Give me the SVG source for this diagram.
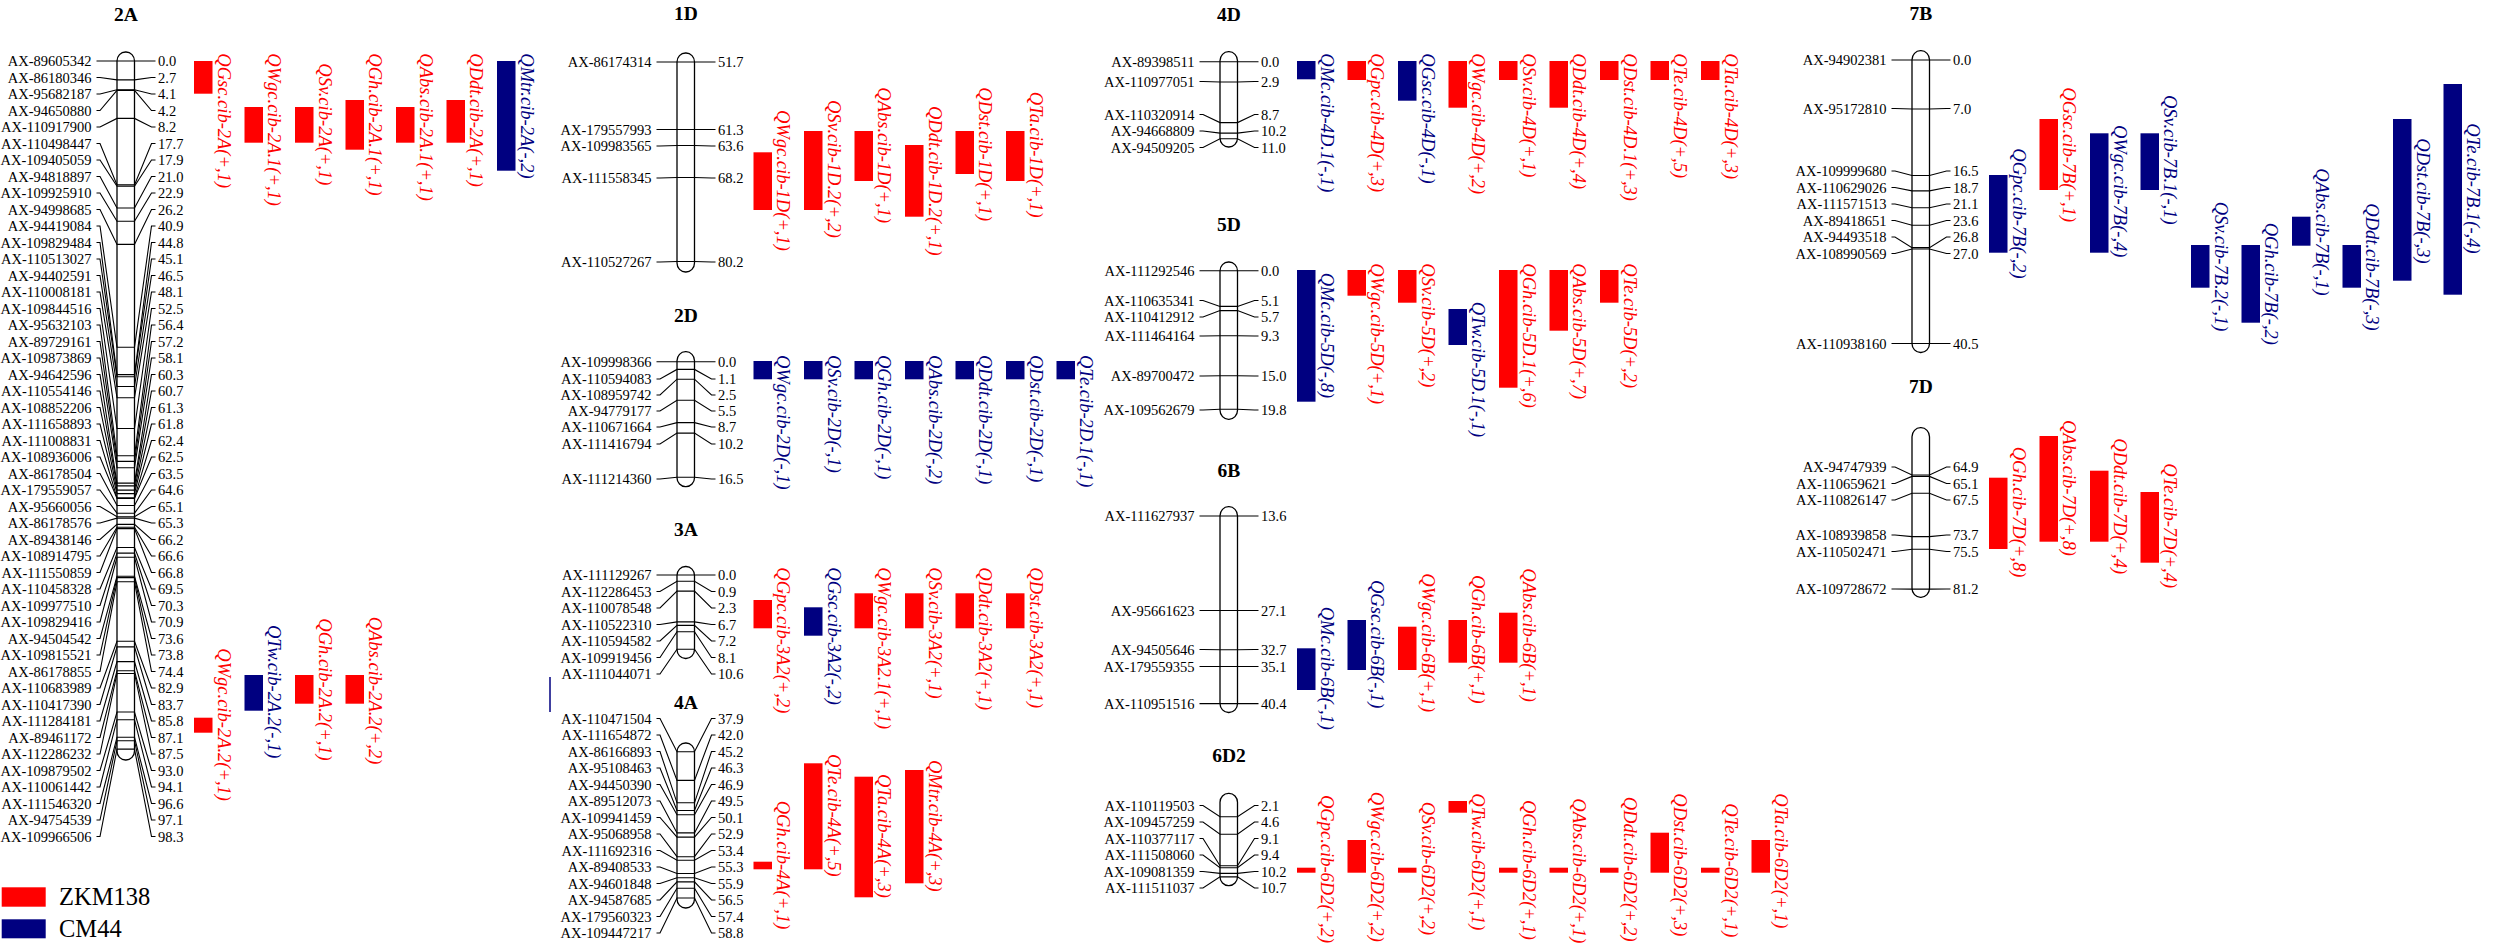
<svg xmlns="http://www.w3.org/2000/svg" width="2496" height="944" viewBox="0 0 2496 944">
<style>
text{font-family:"Liberation Serif","Times New Roman",serif}
.lb{font-size:14.5px;text-anchor:end;fill:#000}
.nm{font-size:14.5px;fill:#000}
.tt{font-size:19.5px;font-weight:bold;text-anchor:middle;fill:#000}
.chr{fill:#fff;stroke:#000;stroke-width:1.3}
.m polyline{fill:none;stroke:#000;stroke-width:1.1}
.r{fill:#ff0000}
.b{fill:#000080}
.qr,.qb{font-size:18.5px;font-style:italic}
.qr{fill:#ff0000}
.qb{fill:#000080}
.lg{font-size:24.5px;fill:#000}
</style>
<rect width="2496" height="944" fill="#fff"/>

<g id="chr-2A">
<text class="tt" x="126" y="20.7">2A</text>
<rect class="chr" x="117" y="52" width="17.5" height="708" rx="8.5" ry="9"/>
<g class="m">
<polyline points="96.5,61 100,61 117,61 134.5,61 151.5,61 155.5,61"/>
<polyline points="96.5,77.5 100,77.5 117,79.9 134.5,79.9 151.5,77.5 155.5,77.5"/>
<polyline points="96.5,94 100,94 117,89.7 134.5,89.7 151.5,94 155.5,94"/>
<polyline points="96.5,110.5 100,110.5 117,90.4 134.5,90.4 151.5,110.5 155.5,110.5"/>
<polyline points="96.5,127 100,127 117,118.4 134.5,118.4 151.5,127 155.5,127"/>
<polyline points="96.5,143.5 100,143.5 117,184.9 134.5,184.9 151.5,143.5 155.5,143.5"/>
<polyline points="96.5,160 100,160 117,186.3 134.5,186.3 151.5,160 155.5,160"/>
<polyline points="96.5,176.5 100,176.5 117,208 134.5,208 151.5,176.5 155.5,176.5"/>
<polyline points="96.5,193 100,193 117,221.3 134.5,221.3 151.5,193 155.5,193"/>
<polyline points="96.5,209.5 100,209.5 117,244.4 134.5,244.4 151.5,209.5 155.5,209.5"/>
<polyline points="96.5,226 100,226 117,347.3 134.5,347.3 151.5,226 155.5,226"/>
<polyline points="96.5,242.5 100,242.5 117,374.6 134.5,374.6 151.5,242.5 155.5,242.5"/>
<polyline points="96.5,259 100,259 117,376.7 134.5,376.7 151.5,259 155.5,259"/>
<polyline points="96.5,275.5 100,275.5 117,386.5 134.5,386.5 151.5,275.5 155.5,275.5"/>
<polyline points="96.5,292 100,292 117,397.7 134.5,397.7 151.5,292 155.5,292"/>
<polyline points="96.5,308.5 100,308.5 117,428.5 134.5,428.5 151.5,308.5 155.5,308.5"/>
<polyline points="96.5,325 100,325 117,455.8 134.5,455.8 151.5,325 155.5,325"/>
<polyline points="96.5,341.5 100,341.5 117,461.4 134.5,461.4 151.5,341.5 155.5,341.5"/>
<polyline points="96.5,358 100,358 117,467.7 134.5,467.7 151.5,358 155.5,358"/>
<polyline points="96.5,374.5 100,374.5 117,483.1 134.5,483.1 151.5,374.5 155.5,374.5"/>
<polyline points="96.5,391 100,391 117,485.9 134.5,485.9 151.5,391 155.5,391"/>
<polyline points="96.5,407.5 100,407.5 117,490.1 134.5,490.1 151.5,407.5 155.5,407.5"/>
<polyline points="96.5,424 100,424 117,493.6 134.5,493.6 151.5,424 155.5,424"/>
<polyline points="96.5,440.5 100,440.5 117,497.8 134.5,497.8 151.5,440.5 155.5,440.5"/>
<polyline points="96.5,457 100,457 117,498.5 134.5,498.5 151.5,457 155.5,457"/>
<polyline points="96.5,473.5 100,473.5 117,505.5 134.5,505.5 151.5,473.5 155.5,473.5"/>
<polyline points="96.5,490 100,490 117,513.2 134.5,513.2 151.5,490 155.5,490"/>
<polyline points="96.5,506.5 100,506.5 117,516.7 134.5,516.7 151.5,506.5 155.5,506.5"/>
<polyline points="96.5,523 100,523 117,518.1 134.5,518.1 151.5,523 155.5,523"/>
<polyline points="96.5,539.5 100,539.5 117,524.4 134.5,524.4 151.5,539.5 155.5,539.5"/>
<polyline points="96.5,556 100,556 117,527.2 134.5,527.2 151.5,556 155.5,556"/>
<polyline points="96.5,572.5 100,572.5 117,528.6 134.5,528.6 151.5,572.5 155.5,572.5"/>
<polyline points="96.5,589 100,589 117,547.5 134.5,547.5 151.5,589 155.5,589"/>
<polyline points="96.5,605.5 100,605.5 117,553.1 134.5,553.1 151.5,605.5 155.5,605.5"/>
<polyline points="96.5,622 100,622 117,557.3 134.5,557.3 151.5,622 155.5,622"/>
<polyline points="96.5,638.5 100,638.5 117,576.2 134.5,576.2 151.5,638.5 155.5,638.5"/>
<polyline points="96.5,655 100,655 117,577.6 134.5,577.6 151.5,655 155.5,655"/>
<polyline points="96.5,671.5 100,671.5 117,581.8 134.5,581.8 151.5,671.5 155.5,671.5"/>
<polyline points="96.5,688 100,688 117,641.3 134.5,641.3 151.5,688 155.5,688"/>
<polyline points="96.5,704.5 100,704.5 117,646.9 134.5,646.9 151.5,704.5 155.5,704.5"/>
<polyline points="96.5,721 100,721 117,661.6 134.5,661.6 151.5,721 155.5,721"/>
<polyline points="96.5,737.5 100,737.5 117,670.7 134.5,670.7 151.5,737.5 155.5,737.5"/>
<polyline points="96.5,754 100,754 117,673.5 134.5,673.5 151.5,754 155.5,754"/>
<polyline points="96.5,770.5 100,770.5 117,712 134.5,712 151.5,770.5 155.5,770.5"/>
<polyline points="96.5,787 100,787 117,719.7 134.5,719.7 151.5,787 155.5,787"/>
<polyline points="96.5,803.5 100,803.5 117,737.2 134.5,737.2 151.5,803.5 155.5,803.5"/>
<polyline points="96.5,820 100,820 117,740.7 134.5,740.7 151.5,820 155.5,820"/>
<polyline points="96.5,836.5 100,836.5 117,749.1 134.5,749.1 151.5,836.5 155.5,836.5"/>
</g>
<text class="lb"><tspan x="91.5" y="66">AX-89605342</tspan><tspan x="91.5" y="82.5">AX-86180346</tspan><tspan x="91.5" y="99">AX-95682187</tspan><tspan x="91.5" y="115.5">AX-94650880</tspan><tspan x="91.5" y="132">AX-110917900</tspan><tspan x="91.5" y="148.5">AX-110498447</tspan><tspan x="91.5" y="165">AX-109405059</tspan><tspan x="91.5" y="181.5">AX-94818897</tspan><tspan x="91.5" y="198">AX-109925910</tspan><tspan x="91.5" y="214.5">AX-94998685</tspan><tspan x="91.5" y="231">AX-94419084</tspan><tspan x="91.5" y="247.5">AX-109829484</tspan><tspan x="91.5" y="264">AX-110513027</tspan><tspan x="91.5" y="280.5">AX-94402591</tspan><tspan x="91.5" y="297">AX-110008181</tspan><tspan x="91.5" y="313.5">AX-109844516</tspan><tspan x="91.5" y="330">AX-95632103</tspan><tspan x="91.5" y="346.5">AX-89729161</tspan><tspan x="91.5" y="363">AX-109873869</tspan><tspan x="91.5" y="379.5">AX-94642596</tspan><tspan x="91.5" y="396">AX-110554146</tspan><tspan x="91.5" y="412.5">AX-108852206</tspan><tspan x="91.5" y="429">AX-111658893</tspan><tspan x="91.5" y="445.5">AX-111008831</tspan><tspan x="91.5" y="462">AX-108936006</tspan><tspan x="91.5" y="478.5">AX-86178504</tspan><tspan x="91.5" y="495">AX-179559057</tspan><tspan x="91.5" y="511.5">AX-95660056</tspan><tspan x="91.5" y="528">AX-86178576</tspan><tspan x="91.5" y="544.5">AX-89438146</tspan><tspan x="91.5" y="561">AX-108914795</tspan><tspan x="91.5" y="577.5">AX-111550859</tspan><tspan x="91.5" y="594">AX-110458328</tspan><tspan x="91.5" y="610.5">AX-109977510</tspan><tspan x="91.5" y="627">AX-109829416</tspan><tspan x="91.5" y="643.5">AX-94504542</tspan><tspan x="91.5" y="660">AX-109815521</tspan><tspan x="91.5" y="676.5">AX-86178855</tspan><tspan x="91.5" y="693">AX-110683989</tspan><tspan x="91.5" y="709.5">AX-110417390</tspan><tspan x="91.5" y="726">AX-111284181</tspan><tspan x="91.5" y="742.5">AX-89461172</tspan><tspan x="91.5" y="759">AX-112286232</tspan><tspan x="91.5" y="775.5">AX-109879502</tspan><tspan x="91.5" y="792">AX-110061442</tspan><tspan x="91.5" y="808.5">AX-111546320</tspan><tspan x="91.5" y="825">AX-94754539</tspan><tspan x="91.5" y="841.5">AX-109966506</tspan></text>
<text class="nm"><tspan x="158" y="66">0.0</tspan><tspan x="158" y="82.5">2.7</tspan><tspan x="158" y="99">4.1</tspan><tspan x="158" y="115.5">4.2</tspan><tspan x="158" y="132">8.2</tspan><tspan x="158" y="148.5">17.7</tspan><tspan x="158" y="165">17.9</tspan><tspan x="158" y="181.5">21.0</tspan><tspan x="158" y="198">22.9</tspan><tspan x="158" y="214.5">26.2</tspan><tspan x="158" y="231">40.9</tspan><tspan x="158" y="247.5">44.8</tspan><tspan x="158" y="264">45.1</tspan><tspan x="158" y="280.5">46.5</tspan><tspan x="158" y="297">48.1</tspan><tspan x="158" y="313.5">52.5</tspan><tspan x="158" y="330">56.4</tspan><tspan x="158" y="346.5">57.2</tspan><tspan x="158" y="363">58.1</tspan><tspan x="158" y="379.5">60.3</tspan><tspan x="158" y="396">60.7</tspan><tspan x="158" y="412.5">61.3</tspan><tspan x="158" y="429">61.8</tspan><tspan x="158" y="445.5">62.4</tspan><tspan x="158" y="462">62.5</tspan><tspan x="158" y="478.5">63.5</tspan><tspan x="158" y="495">64.6</tspan><tspan x="158" y="511.5">65.1</tspan><tspan x="158" y="528">65.3</tspan><tspan x="158" y="544.5">66.2</tspan><tspan x="158" y="561">66.6</tspan><tspan x="158" y="577.5">66.8</tspan><tspan x="158" y="594">69.5</tspan><tspan x="158" y="610.5">70.3</tspan><tspan x="158" y="627">70.9</tspan><tspan x="158" y="643.5">73.6</tspan><tspan x="158" y="660">73.8</tspan><tspan x="158" y="676.5">74.4</tspan><tspan x="158" y="693">82.9</tspan><tspan x="158" y="709.5">83.7</tspan><tspan x="158" y="726">85.8</tspan><tspan x="158" y="742.5">87.1</tspan><tspan x="158" y="759">87.5</tspan><tspan x="158" y="775.5">93.0</tspan><tspan x="158" y="792">94.1</tspan><tspan x="158" y="808.5">96.6</tspan><tspan x="158" y="825">97.1</tspan><tspan x="158" y="841.5">98.3</tspan></text>
</g>

<g id="qtl-2A">
<rect class="r" x="194" y="61" width="18.5" height="32.7"/><text class="qr" transform="translate(217.5,53.3) rotate(90)">QGsc.cib-2A(+,1)</text>
<rect class="r" x="244.5" y="107" width="18.5" height="35.7"/><text class="qr" transform="translate(268,53.3) rotate(90)">QWgc.cib-2A.1(+,1)</text>
<rect class="r" x="295" y="107" width="18.5" height="35.7"/><text class="qr" transform="translate(318.5,63.3) rotate(90)">QSv.cib-2A(+,1)</text>
<rect class="r" x="345.5" y="100" width="18.5" height="49.7"/><text class="qr" transform="translate(369,53.3) rotate(90)">QGh.cib-2A.1(+,1)</text>
<rect class="r" x="396" y="107" width="18.5" height="35.7"/><text class="qr" transform="translate(419.5,53.3) rotate(90)">QAbs.cib-2A.1(+,1)</text>
<rect class="r" x="446.5" y="100" width="18.5" height="42.7"/><text class="qr" transform="translate(470,53.3) rotate(90)">QDdt.cib-2A(+,1)</text>
<rect class="b" x="497" y="61" width="18.5" height="109.7"/><text class="qb" transform="translate(520.5,53.3) rotate(90)">QMtr.cib-2A(-,2)</text>
<rect class="r" x="194" y="717.7" width="18.5" height="15"/><text class="qr" transform="translate(217.5,648.3) rotate(90)">QWgc.cib-2A.2(+,1)</text>
<rect class="b" x="244.5" y="675" width="18.5" height="35.7"/><text class="qb" transform="translate(268,625) rotate(90)">QTw.cib-2A.2(-,1)</text>
<rect class="r" x="295" y="675" width="18.5" height="28.7"/><text class="qr" transform="translate(318.5,618.3) rotate(90)">QGh.cib-2A.2(+,1)</text>
<rect class="r" x="345.5" y="675" width="18.5" height="28.7"/><text class="qr" transform="translate(369,616.7) rotate(90)">QAbs.cib-2A.2(+,2)</text>
</g>
<line x1="550" y1="677" x2="550" y2="712" stroke="#000080" stroke-width="1.5"/>

<g id="chr-1D">
<text class="tt" x="686" y="20">1D</text>
<rect class="chr" x="677" y="53" width="17.5" height="219" rx="8.5" ry="9"/>
<g class="m">
<polyline points="656.5,62 660,62 677,62 694.5,62 711.5,62 715.5,62"/>
<polyline points="656.5,129.5 660,129.5 677,129.5 694.5,129.5 711.5,129.5 715.5,129.5"/>
<polyline points="656.5,146 660,146 677,145.5 694.5,145.5 711.5,146 715.5,146"/>
<polyline points="656.5,178 660,178 677,177.5 694.5,177.5 711.5,178 715.5,178"/>
<polyline points="656.5,262 660,262 677,261.5 694.5,261.5 711.5,262 715.5,262"/>
</g>
<text class="lb"><tspan x="651.5" y="67">AX-86174314</tspan><tspan x="651.5" y="134.5">AX-179557993</tspan><tspan x="651.5" y="151">AX-109983565</tspan><tspan x="651.5" y="183">AX-111558345</tspan><tspan x="651.5" y="267">AX-110527267</tspan></text>
<text class="nm"><tspan x="718" y="67">51.7</tspan><tspan x="718" y="134.5">61.3</tspan><tspan x="718" y="151">63.6</tspan><tspan x="718" y="183">68.2</tspan><tspan x="718" y="267">80.2</tspan></text>
</g>

<g id="qtl-1D">
<rect class="r" x="753.5" y="152.3" width="18.5" height="57.7"/><text class="qr" transform="translate(777,110) rotate(90)">QWgc.cib-1D(+,1)</text>
<rect class="r" x="804" y="131" width="18.5" height="79"/><text class="qr" transform="translate(827.5,100) rotate(90)">QSv.cib-1D.2(+,2)</text>
<rect class="r" x="854.5" y="131" width="18.5" height="50"/><text class="qr" transform="translate(878,87.3) rotate(90)">QAbs.cib-1D(+,1)</text>
<rect class="r" x="905" y="145" width="18.5" height="71.7"/><text class="qr" transform="translate(928.5,106) rotate(90)">QDdt.cib-1D.2(+,1)</text>
<rect class="r" x="955.5" y="131" width="18.5" height="43"/><text class="qr" transform="translate(979,87.3) rotate(90)">QDst.cib-1D(+,1)</text>
<rect class="r" x="1006" y="131" width="18.5" height="50"/><text class="qr" transform="translate(1029.5,91.7) rotate(90)">QTa.cib-1D(+,1)</text>
</g>

<g id="chr-2D">
<text class="tt" x="686" y="321.7">2D</text>
<rect class="chr" x="677" y="351.7" width="17.5" height="135" rx="8.5" ry="9"/>
<g class="m">
<polyline points="656.5,361.7 660,361.7 677,361.7 694.5,361.7 711.5,361.7 715.5,361.7"/>
<polyline points="656.5,379 660,379 677,369.4 694.5,369.4 711.5,379 715.5,379"/>
<polyline points="656.5,395 660,395 677,379.2 694.5,379.2 711.5,395 715.5,395"/>
<polyline points="656.5,411 660,411 677,400.2 694.5,400.2 711.5,411 715.5,411"/>
<polyline points="656.5,427 660,427 677,422.6 694.5,422.6 711.5,427 715.5,427"/>
<polyline points="656.5,444 660,444 677,433.1 694.5,433.1 711.5,444 715.5,444"/>
<polyline points="656.5,479 660,479 677,477.2 694.5,477.2 711.5,479 715.5,479"/>
</g>
<text class="lb"><tspan x="651.5" y="366.7">AX-109998366</tspan><tspan x="651.5" y="384">AX-110594083</tspan><tspan x="651.5" y="400">AX-108959742</tspan><tspan x="651.5" y="416">AX-94779177</tspan><tspan x="651.5" y="432">AX-110671664</tspan><tspan x="651.5" y="449">AX-111416794</tspan><tspan x="651.5" y="484">AX-111214360</tspan></text>
<text class="nm"><tspan x="718" y="366.7">0.0</tspan><tspan x="718" y="384">1.1</tspan><tspan x="718" y="400">2.5</tspan><tspan x="718" y="416">5.5</tspan><tspan x="718" y="432">8.7</tspan><tspan x="718" y="449">10.2</tspan><tspan x="718" y="484">16.5</tspan></text>
</g>

<g id="qtl-2D">
<rect class="b" x="753.5" y="361" width="18.5" height="18.3"/><text class="qb" transform="translate(777,355) rotate(90)">QWgc.cib-2D(-,1)</text>
<rect class="b" x="804" y="361" width="18.5" height="18.3"/><text class="qb" transform="translate(827.5,355) rotate(90)">QSv.cib-2D(-,1)</text>
<rect class="b" x="854.5" y="361" width="18.5" height="18.3"/><text class="qb" transform="translate(878,355) rotate(90)">QGh.cib-2D(-,1)</text>
<rect class="b" x="905" y="361" width="18.5" height="18.3"/><text class="qb" transform="translate(928.5,355) rotate(90)">QAbs.cib-2D(-,2)</text>
<rect class="b" x="955.5" y="361" width="18.5" height="18.3"/><text class="qb" transform="translate(979,355) rotate(90)">QDdt.cib-2D(-,1)</text>
<rect class="b" x="1006" y="361" width="18.5" height="18.3"/><text class="qb" transform="translate(1029.5,355) rotate(90)">QDst.cib-2D(-,1)</text>
<rect class="b" x="1056.5" y="361" width="18.5" height="18.3"/><text class="qb" transform="translate(1080,355) rotate(90)">QTe.cib-2D.1(-,1)</text>
</g>

<g id="chr-3A">
<text class="tt" x="686" y="536">3A</text>
<rect class="chr" x="677" y="566.5" width="17.5" height="92" rx="8.5" ry="9"/>
<g class="m">
<polyline points="656.5,575 660,575 677,575 694.5,575 711.5,575 715.5,575"/>
<polyline points="656.5,591.5 660,591.5 677,581.3 694.5,581.3 711.5,591.5 715.5,591.5"/>
<polyline points="656.5,608 660,608 677,591.1 694.5,591.1 711.5,608 715.5,608"/>
<polyline points="656.5,624.5 660,624.5 677,621.9 694.5,621.9 711.5,624.5 715.5,624.5"/>
<polyline points="656.5,641 660,641 677,625.4 694.5,625.4 711.5,641 715.5,641"/>
<polyline points="656.5,657.5 660,657.5 677,631.7 694.5,631.7 711.5,657.5 715.5,657.5"/>
<polyline points="656.5,674 660,674 677,649.2 694.5,649.2 711.5,674 715.5,674"/>
</g>
<text class="lb"><tspan x="651.5" y="580">AX-111129267</tspan><tspan x="651.5" y="596.5">AX-112286453</tspan><tspan x="651.5" y="613">AX-110078548</tspan><tspan x="651.5" y="629.5">AX-110522310</tspan><tspan x="651.5" y="646">AX-110594582</tspan><tspan x="651.5" y="662.5">AX-109919456</tspan><tspan x="651.5" y="679">AX-111044071</tspan></text>
<text class="nm"><tspan x="718" y="580">0.0</tspan><tspan x="718" y="596.5">0.9</tspan><tspan x="718" y="613">2.3</tspan><tspan x="718" y="629.5">6.7</tspan><tspan x="718" y="646">7.2</tspan><tspan x="718" y="662.5">8.1</tspan><tspan x="718" y="679">10.6</tspan></text>
</g>

<g id="qtl-3A">
<rect class="r" x="753.5" y="600" width="18.5" height="28.3"/><text class="qr" transform="translate(777,567.3) rotate(90)">QGpc.cib-3A2(+,2)</text>
<rect class="b" x="804" y="607.3" width="18.5" height="28.4"/><text class="qb" transform="translate(827.5,567.3) rotate(90)">QGsc.cib-3A2(-,2)</text>
<rect class="r" x="854.5" y="593.3" width="18.5" height="35"/><text class="qr" transform="translate(878,567.3) rotate(90)">QWgc.cib-3A2.1(+,1)</text>
<rect class="r" x="905" y="593.3" width="18.5" height="35"/><text class="qr" transform="translate(928.5,567.3) rotate(90)">QSv.cib-3A2(+,1)</text>
<rect class="r" x="955.5" y="593.3" width="18.5" height="35"/><text class="qr" transform="translate(979,567.3) rotate(90)">QDdt.cib-3A2(+,1)</text>
<rect class="r" x="1006" y="593.3" width="18.5" height="35"/><text class="qr" transform="translate(1029.5,567.3) rotate(90)">QDst.cib-3A2(+,1)</text>
</g>

<g id="chr-4A">
<text class="tt" x="686" y="709.3">4A</text>
<rect class="chr" x="677" y="743" width="17.5" height="165" rx="8.5" ry="9"/>
<g class="m">
<polyline points="656.5,718.5 660,718.5 677,751.7 694.5,751.7 711.5,718.5 715.5,718.5"/>
<polyline points="656.5,735 660,735 677,780.4 694.5,780.4 711.5,735 715.5,735"/>
<polyline points="656.5,751.5 660,751.5 677,802.8 694.5,802.8 711.5,751.5 715.5,751.5"/>
<polyline points="656.5,768 660,768 677,810.5 694.5,810.5 711.5,768 715.5,768"/>
<polyline points="656.5,784.5 660,784.5 677,814.7 694.5,814.7 711.5,784.5 715.5,784.5"/>
<polyline points="656.5,801 660,801 677,832.9 694.5,832.9 711.5,801 715.5,801"/>
<polyline points="656.5,817.5 660,817.5 677,837.1 694.5,837.1 711.5,817.5 715.5,817.5"/>
<polyline points="656.5,834 660,834 677,856.7 694.5,856.7 711.5,834 715.5,834"/>
<polyline points="656.5,850.5 660,850.5 677,860.2 694.5,860.2 711.5,850.5 715.5,850.5"/>
<polyline points="656.5,867 660,867 677,873.5 694.5,873.5 711.5,867 715.5,867"/>
<polyline points="656.5,883.5 660,883.5 677,877.7 694.5,877.7 711.5,883.5 715.5,883.5"/>
<polyline points="656.5,900 660,900 677,881.9 694.5,881.9 711.5,900 715.5,900"/>
<polyline points="656.5,916.5 660,916.5 677,888.2 694.5,888.2 711.5,916.5 715.5,916.5"/>
<polyline points="656.5,933 660,933 677,898 694.5,898 711.5,933 715.5,933"/>
</g>
<text class="lb"><tspan x="651.5" y="723.5">AX-110471504</tspan><tspan x="651.5" y="740">AX-111654872</tspan><tspan x="651.5" y="756.5">AX-86166893</tspan><tspan x="651.5" y="773">AX-95108463</tspan><tspan x="651.5" y="789.5">AX-94450390</tspan><tspan x="651.5" y="806">AX-89512073</tspan><tspan x="651.5" y="822.5">AX-109941459</tspan><tspan x="651.5" y="839">AX-95068958</tspan><tspan x="651.5" y="855.5">AX-111692316</tspan><tspan x="651.5" y="872">AX-89408533</tspan><tspan x="651.5" y="888.5">AX-94601848</tspan><tspan x="651.5" y="905">AX-94587685</tspan><tspan x="651.5" y="921.5">AX-179560323</tspan><tspan x="651.5" y="938">AX-109447217</tspan></text>
<text class="nm"><tspan x="718" y="723.5">37.9</tspan><tspan x="718" y="740">42.0</tspan><tspan x="718" y="756.5">45.2</tspan><tspan x="718" y="773">46.3</tspan><tspan x="718" y="789.5">46.9</tspan><tspan x="718" y="806">49.5</tspan><tspan x="718" y="822.5">50.1</tspan><tspan x="718" y="839">52.9</tspan><tspan x="718" y="855.5">53.4</tspan><tspan x="718" y="872">55.3</tspan><tspan x="718" y="888.5">55.9</tspan><tspan x="718" y="905">56.5</tspan><tspan x="718" y="921.5">57.4</tspan><tspan x="718" y="938">58.8</tspan></text>
</g>

<g id="qtl-4A">
<rect class="r" x="753.5" y="861.7" width="18.5" height="7.6"/><text class="qr" transform="translate(777,800.7) rotate(90)">QGh.cib-4A(+,1)</text>
<rect class="r" x="804" y="763.3" width="18.5" height="106"/><text class="qr" transform="translate(827.5,754) rotate(90)">QTe.cib-4A(+,5)</text>
<rect class="r" x="854.5" y="776.7" width="18.5" height="120.6"/><text class="qr" transform="translate(878,774) rotate(90)">QTa.cib-4A(+,3)</text>
<rect class="r" x="905" y="770" width="18.5" height="113.3"/><text class="qr" transform="translate(928.5,760) rotate(90)">QMtr.cib-4A(+,3)</text>
</g>

<g id="chr-4D">
<text class="tt" x="1229" y="20.7">4D</text>
<rect class="chr" x="1220" y="51.7" width="17.5" height="95.3" rx="8.5" ry="9"/>
<g class="m">
<polyline points="1199.5,61.7 1203,61.7 1220,61.7 1237.5,61.7 1254.5,61.7 1258.5,61.7"/>
<polyline points="1199.5,81.5 1203,81.5 1220,82 1237.5,82 1254.5,81.5 1258.5,81.5"/>
<polyline points="1199.5,114.5 1203,114.5 1220,122.6 1237.5,122.6 1254.5,114.5 1258.5,114.5"/>
<polyline points="1199.5,131 1203,131 1220,133.1 1237.5,133.1 1254.5,131 1258.5,131"/>
<polyline points="1199.5,147.5 1203,147.5 1220,138.7 1237.5,138.7 1254.5,147.5 1258.5,147.5"/>
</g>
<text class="lb"><tspan x="1194.5" y="66.7">AX-89398511</tspan><tspan x="1194.5" y="86.5">AX-110977051</tspan><tspan x="1194.5" y="119.5">AX-110320914</tspan><tspan x="1194.5" y="136">AX-94668809</tspan><tspan x="1194.5" y="152.5">AX-94509205</tspan></text>
<text class="nm"><tspan x="1261" y="66.7">0.0</tspan><tspan x="1261" y="86.5">2.9</tspan><tspan x="1261" y="119.5">8.7</tspan><tspan x="1261" y="136">10.2</tspan><tspan x="1261" y="152.5">11.0</tspan></text>
</g>

<g id="qtl-4D">
<rect class="b" x="1297" y="61" width="18.5" height="18.3"/><text class="qb" transform="translate(1320.5,53.3) rotate(90)">QMc.cib-4D.1(-,1)</text>
<rect class="r" x="1347.5" y="61" width="18.5" height="19"/><text class="qr" transform="translate(1371,53.3) rotate(90)">QGpc.cib-4D(+,3)</text>
<rect class="b" x="1398" y="61" width="18.5" height="39.7"/><text class="qb" transform="translate(1421.5,53.3) rotate(90)">QGsc.cib-4D(-,1)</text>
<rect class="r" x="1448.5" y="61" width="18.5" height="46.7"/><text class="qr" transform="translate(1472,53.3) rotate(90)">QWgc.cib-4D(+,2)</text>
<rect class="r" x="1499" y="61" width="18.5" height="19"/><text class="qr" transform="translate(1522.5,53.3) rotate(90)">QSv.cib-4D(+,1)</text>
<rect class="r" x="1549.5" y="61" width="18.5" height="46.7"/><text class="qr" transform="translate(1573,53.3) rotate(90)">QDdt.cib-4D(+,4)</text>
<rect class="r" x="1600" y="61" width="18.5" height="19"/><text class="qr" transform="translate(1623.5,53.3) rotate(90)">QDst.cib-4D.1(+,3)</text>
<rect class="r" x="1650.5" y="61" width="18.5" height="19"/><text class="qr" transform="translate(1674,53.3) rotate(90)">QTe.cib-4D(+,5)</text>
<rect class="r" x="1701" y="61" width="18.5" height="19"/><text class="qr" transform="translate(1724.5,53.3) rotate(90)">QTa.cib-4D(+,3)</text>
</g>

<g id="chr-5D">
<text class="tt" x="1229" y="230.7">5D</text>
<rect class="chr" x="1220" y="262" width="17.5" height="157.3" rx="8.5" ry="9"/>
<g class="m">
<polyline points="1199.5,270.7 1203,270.7 1220,270.7 1237.5,270.7 1254.5,270.7 1258.5,270.7"/>
<polyline points="1199.5,300.5 1203,300.5 1220,306.4 1237.5,306.4 1254.5,300.5 1258.5,300.5"/>
<polyline points="1199.5,317 1203,317 1220,310.6 1237.5,310.6 1254.5,317 1258.5,317"/>
<polyline points="1199.5,336 1203,336 1220,335.8 1237.5,335.8 1254.5,336 1258.5,336"/>
<polyline points="1199.5,376 1203,376 1220,375.7 1237.5,375.7 1254.5,376 1258.5,376"/>
<polyline points="1199.5,410 1203,410 1220,409.3 1237.5,409.3 1254.5,410 1258.5,410"/>
</g>
<text class="lb"><tspan x="1194.5" y="275.7">AX-111292546</tspan><tspan x="1194.5" y="305.5">AX-110635341</tspan><tspan x="1194.5" y="322">AX-110412912</tspan><tspan x="1194.5" y="341">AX-111464164</tspan><tspan x="1194.5" y="381">AX-89700472</tspan><tspan x="1194.5" y="415">AX-109562679</tspan></text>
<text class="nm"><tspan x="1261" y="275.7">0.0</tspan><tspan x="1261" y="305.5">5.1</tspan><tspan x="1261" y="322">5.7</tspan><tspan x="1261" y="341">9.3</tspan><tspan x="1261" y="381">15.0</tspan><tspan x="1261" y="415">19.8</tspan></text>
</g>

<g id="qtl-5D">
<rect class="b" x="1297" y="270" width="18.5" height="131.7"/><text class="qb" transform="translate(1320.5,272.7) rotate(90)">QMc.cib-5D(-,8)</text>
<rect class="r" x="1347.5" y="270" width="18.5" height="25.7"/><text class="qr" transform="translate(1371,263.3) rotate(90)">QWgc.cib-5D(+,1)</text>
<rect class="r" x="1398" y="270" width="18.5" height="32.7"/><text class="qr" transform="translate(1421.5,263.3) rotate(90)">QSv.cib-5D(+,2)</text>
<rect class="b" x="1448.5" y="309" width="18.5" height="36"/><text class="qb" transform="translate(1472,301.7) rotate(90)">QTw.cib-5D.1(-,1)</text>
<rect class="r" x="1499" y="270" width="18.5" height="117.7"/><text class="qr" transform="translate(1522.5,263.3) rotate(90)">QGh.cib-5D.1(+,6)</text>
<rect class="r" x="1549.5" y="270" width="18.5" height="60.7"/><text class="qr" transform="translate(1573,263.3) rotate(90)">QAbs.cib-5D(+,7)</text>
<rect class="r" x="1600" y="270" width="18.5" height="32.7"/><text class="qr" transform="translate(1623.5,263.3) rotate(90)">QTe.cib-5D(+,2)</text>
</g>

<g id="chr-6B">
<text class="tt" x="1229" y="476.7">6B</text>
<rect class="chr" x="1220" y="506.7" width="17.5" height="205.8" rx="8.5" ry="9"/>
<g class="m">
<polyline points="1199.5,516 1203,516 1220,516 1237.5,516 1254.5,516 1258.5,516"/>
<polyline points="1199.5,610.5 1203,610.5 1220,610.5 1237.5,610.5 1254.5,610.5 1258.5,610.5"/>
<polyline points="1199.5,649.5 1203,649.5 1220,649.7 1237.5,649.7 1254.5,649.5 1258.5,649.5"/>
<polyline points="1199.5,666.5 1203,666.5 1220,666.5 1237.5,666.5 1254.5,666.5 1258.5,666.5"/>
<polyline points="1199.5,703.6 1203,703.6 1220,703.6 1237.5,703.6 1254.5,703.6 1258.5,703.6"/>
</g>
<text class="lb"><tspan x="1194.5" y="521">AX-111627937</tspan><tspan x="1194.5" y="615.5">AX-95661623</tspan><tspan x="1194.5" y="654.5">AX-94505646</tspan><tspan x="1194.5" y="671.5">AX-179559355</tspan><tspan x="1194.5" y="708.6">AX-110951516</tspan></text>
<text class="nm"><tspan x="1261" y="521">13.6</tspan><tspan x="1261" y="615.5">27.1</tspan><tspan x="1261" y="654.5">32.7</tspan><tspan x="1261" y="671.5">35.1</tspan><tspan x="1261" y="708.6">40.4</tspan></text>
</g>

<g id="qtl-6B">
<rect class="b" x="1297" y="648.3" width="18.5" height="41.7"/><text class="qb" transform="translate(1320.5,606.7) rotate(90)">QMc.cib-6B(-,1)</text>
<rect class="b" x="1347.5" y="620" width="18.5" height="50"/><text class="qb" transform="translate(1371,580) rotate(90)">QGsc.cib-6B(-,1)</text>
<rect class="r" x="1398" y="626.7" width="18.5" height="43.3"/><text class="qr" transform="translate(1421.5,573.3) rotate(90)">QWgc.cib-6B(+,1)</text>
<rect class="r" x="1448.5" y="620" width="18.5" height="42.7"/><text class="qr" transform="translate(1472,575) rotate(90)">QGh.cib-6B(+,1)</text>
<rect class="r" x="1499" y="612.7" width="18.5" height="50"/><text class="qr" transform="translate(1522.5,568.3) rotate(90)">QAbs.cib-6B(+,1)</text>
</g>

<g id="chr-6D2">
<text class="tt" x="1229" y="761.7">6D2</text>
<rect class="chr" x="1220" y="793.3" width="17.5" height="92.4" rx="8.5" ry="9"/>
<g class="m">
<polyline points="1199.5,805.5 1203,805.5 1220,816.7 1237.5,816.7 1254.5,805.5 1258.5,805.5"/>
<polyline points="1199.5,822 1203,822 1220,834.2 1237.5,834.2 1254.5,822 1258.5,822"/>
<polyline points="1199.5,838.5 1203,838.5 1220,865.7 1237.5,865.7 1254.5,838.5 1258.5,838.5"/>
<polyline points="1199.5,855 1203,855 1220,867.8 1237.5,867.8 1254.5,855 1258.5,855"/>
<polyline points="1199.5,871.5 1203,871.5 1220,873.4 1237.5,873.4 1254.5,871.5 1258.5,871.5"/>
<polyline points="1199.5,888 1203,888 1220,876.9 1237.5,876.9 1254.5,888 1258.5,888"/>
</g>
<text class="lb"><tspan x="1194.5" y="810.5">AX-110119503</tspan><tspan x="1194.5" y="827">AX-109457259</tspan><tspan x="1194.5" y="843.5">AX-110377117</tspan><tspan x="1194.5" y="860">AX-111508060</tspan><tspan x="1194.5" y="876.5">AX-109081359</tspan><tspan x="1194.5" y="893">AX-111511037</tspan></text>
<text class="nm"><tspan x="1261" y="810.5">2.1</tspan><tspan x="1261" y="827">4.6</tspan><tspan x="1261" y="843.5">9.1</tspan><tspan x="1261" y="860">9.4</tspan><tspan x="1261" y="876.5">10.2</tspan><tspan x="1261" y="893">10.7</tspan></text>
</g>

<g id="qtl-6D2">
<rect class="r" x="1297" y="867.7" width="18.5" height="5"/><text class="qr" transform="translate(1320.5,795) rotate(90)">QGpc.cib-6D2(+,2)</text>
<rect class="r" x="1347.5" y="840" width="18.5" height="32.7"/><text class="qr" transform="translate(1371,791.7) rotate(90)">QWgc.cib-6D2(+,2)</text>
<rect class="r" x="1398" y="867.7" width="18.5" height="5"/><text class="qr" transform="translate(1421.5,801.7) rotate(90)">QSv.cib-6D2(+,2)</text>
<rect class="r" x="1448.5" y="801" width="18.5" height="11.7"/><text class="qr" transform="translate(1472,793.3) rotate(90)">QTw.cib-6D2(+,1)</text>
<rect class="r" x="1499" y="867.7" width="18.5" height="5"/><text class="qr" transform="translate(1522.5,800) rotate(90)">QGh.cib-6D2(+,1)</text>
<rect class="r" x="1549.5" y="867.7" width="18.5" height="5"/><text class="qr" transform="translate(1573,798.3) rotate(90)">QAbs.cib-6D2(+,1)</text>
<rect class="r" x="1600" y="867.7" width="18.5" height="5"/><text class="qr" transform="translate(1623.5,796.7) rotate(90)">QDdt.cib-6D2(+,2)</text>
<rect class="r" x="1650.5" y="832.7" width="18.5" height="40"/><text class="qr" transform="translate(1674,793.3) rotate(90)">QDst.cib-6D2(+,3)</text>
<rect class="r" x="1701" y="867.7" width="18.5" height="5"/><text class="qr" transform="translate(1724.5,803.3) rotate(90)">QTe.cib-6D2(+,1)</text>
<rect class="r" x="1751.5" y="840" width="18.5" height="32.7"/><text class="qr" transform="translate(1775,793.3) rotate(90)">QTa.cib-6D2(+,1)</text>
</g>

<g id="chr-7B">
<text class="tt" x="1921" y="20">7B</text>
<rect class="chr" x="1912" y="50.7" width="17.5" height="301.8" rx="8.5" ry="9"/>
<g class="m">
<polyline points="1891.5,60 1895,60 1912,60 1929.5,60 1946.5,60 1950.5,60"/>
<polyline points="1891.5,108.5 1895,108.5 1912,109 1929.5,109 1946.5,108.5 1950.5,108.5"/>
<polyline points="1891.5,171 1895,171 1912,175.5 1929.5,175.5 1946.5,171 1950.5,171"/>
<polyline points="1891.5,187.5 1895,187.5 1912,190.9 1929.5,190.9 1946.5,187.5 1950.5,187.5"/>
<polyline points="1891.5,204 1895,204 1912,207.7 1929.5,207.7 1946.5,204 1950.5,204"/>
<polyline points="1891.5,220.5 1895,220.5 1912,225.2 1929.5,225.2 1946.5,220.5 1950.5,220.5"/>
<polyline points="1891.5,237 1895,237 1912,247.6 1929.5,247.6 1946.5,237 1950.5,237"/>
<polyline points="1891.5,253.5 1895,253.5 1912,249 1929.5,249 1946.5,253.5 1950.5,253.5"/>
<polyline points="1891.5,343.5 1895,343.5 1912,343.5 1929.5,343.5 1946.5,343.5 1950.5,343.5"/>
</g>
<text class="lb"><tspan x="1886.5" y="65">AX-94902381</tspan><tspan x="1886.5" y="113.5">AX-95172810</tspan><tspan x="1886.5" y="176">AX-109999680</tspan><tspan x="1886.5" y="192.5">AX-110629026</tspan><tspan x="1886.5" y="209">AX-111571513</tspan><tspan x="1886.5" y="225.5">AX-89418651</tspan><tspan x="1886.5" y="242">AX-94493518</tspan><tspan x="1886.5" y="258.5">AX-108990569</tspan><tspan x="1886.5" y="348.5">AX-110938160</tspan></text>
<text class="nm"><tspan x="1953" y="65">0.0</tspan><tspan x="1953" y="113.5">7.0</tspan><tspan x="1953" y="176">16.5</tspan><tspan x="1953" y="192.5">18.7</tspan><tspan x="1953" y="209">21.1</tspan><tspan x="1953" y="225.5">23.6</tspan><tspan x="1953" y="242">26.8</tspan><tspan x="1953" y="258.5">27.0</tspan><tspan x="1953" y="348.5">40.5</tspan></text>
</g>

<g id="qtl-7B">
<rect class="b" x="1989" y="175" width="18.5" height="77.7"/><text class="qb" transform="translate(2012.5,148.3) rotate(90)">QGpc.cib-7B(-,2)</text>
<rect class="r" x="2039.5" y="119" width="18.5" height="71"/><text class="qr" transform="translate(2063,87.3) rotate(90)">QGsc.cib-7B(+,1)</text>
<rect class="b" x="2090" y="133.3" width="18.5" height="119.4"/><text class="qb" transform="translate(2113.5,125) rotate(90)">QWgc.cib-7B(-,4)</text>
<rect class="b" x="2140.5" y="133.3" width="18.5" height="56.7"/><text class="qb" transform="translate(2164,95) rotate(90)">QSv.cib-7B.1(-,1)</text>
<rect class="b" x="2191" y="245" width="18.5" height="42.7"/><text class="qb" transform="translate(2214.5,201.7) rotate(90)">QSv.cib-7B.2(-,1)</text>
<rect class="b" x="2241.5" y="245" width="18.5" height="77.7"/><text class="qb" transform="translate(2265,222.7) rotate(90)">QGh.cib-7B(-,2)</text>
<rect class="b" x="2292" y="216.7" width="18.5" height="29"/><text class="qb" transform="translate(2315.5,168.3) rotate(90)">QAbs.cib-7B(-,1)</text>
<rect class="b" x="2342.5" y="245" width="18.5" height="42.7"/><text class="qb" transform="translate(2366,203.3) rotate(90)">QDdt.cib-7B(-,3)</text>
<rect class="b" x="2393" y="119" width="18.5" height="161.7"/><text class="qb" transform="translate(2416.5,138.3) rotate(90)">QDst.cib-7B(-,3)</text>
<rect class="b" x="2443.5" y="84" width="18.5" height="210.7"/><text class="qb" transform="translate(2467,123.3) rotate(90)">QTe.cib-7B.1(-,4)</text>
</g>

<g id="chr-7D">
<text class="tt" x="1921" y="393.3">7D</text>
<rect class="chr" x="1912" y="427.7" width="17.5" height="169.6" rx="8.5" ry="9"/>
<g class="m">
<polyline points="1891.5,467 1895,467 1912,475 1929.5,475 1946.5,467 1950.5,467"/>
<polyline points="1891.5,483.5 1895,483.5 1912,476.4 1929.5,476.4 1946.5,483.5 1950.5,483.5"/>
<polyline points="1891.5,500 1895,500 1912,493.2 1929.5,493.2 1946.5,500 1950.5,500"/>
<polyline points="1891.5,535 1895,535 1912,536.6 1929.5,536.6 1946.5,535 1950.5,535"/>
<polyline points="1891.5,551.5 1895,551.5 1912,549.2 1929.5,549.2 1946.5,551.5 1950.5,551.5"/>
<polyline points="1891.5,589 1895,589 1912,589.1 1929.5,589.1 1946.5,589 1950.5,589"/>
</g>
<text class="lb"><tspan x="1886.5" y="472">AX-94747939</tspan><tspan x="1886.5" y="488.5">AX-110659621</tspan><tspan x="1886.5" y="505">AX-110826147</tspan><tspan x="1886.5" y="540">AX-108939858</tspan><tspan x="1886.5" y="556.5">AX-110502471</tspan><tspan x="1886.5" y="594">AX-109728672</tspan></text>
<text class="nm"><tspan x="1953" y="472">64.9</tspan><tspan x="1953" y="488.5">65.1</tspan><tspan x="1953" y="505">67.5</tspan><tspan x="1953" y="540">73.7</tspan><tspan x="1953" y="556.5">75.5</tspan><tspan x="1953" y="594">81.2</tspan></text>
</g>

<g id="qtl-7D">
<rect class="r" x="1989" y="477.7" width="18.5" height="71.3"/><text class="qr" transform="translate(2012.5,446.7) rotate(90)">QGh.cib-7D(+,8)</text>
<rect class="r" x="2039.5" y="436" width="18.5" height="105.7"/><text class="qr" transform="translate(2063,420) rotate(90)">QAbs.cib-7D(+,8)</text>
<rect class="r" x="2090" y="470.7" width="18.5" height="71"/><text class="qr" transform="translate(2113.5,438.3) rotate(90)">QDdt.cib-7D(+,4)</text>
<rect class="r" x="2140.5" y="492" width="18.5" height="70.7"/><text class="qr" transform="translate(2164,463.3) rotate(90)">QTe.cib-7D(+,4)</text>
</g>

<g id="legend">
<rect class="r" x="1.7" y="887.3" width="44" height="19.4"/>
<text class="lg" x="59" y="904.5">ZKM138</text>
<rect class="b" x="1.7" y="919.3" width="44" height="19"/>
<text class="lg" x="59" y="937">CM44</text>
</g>
</svg>
